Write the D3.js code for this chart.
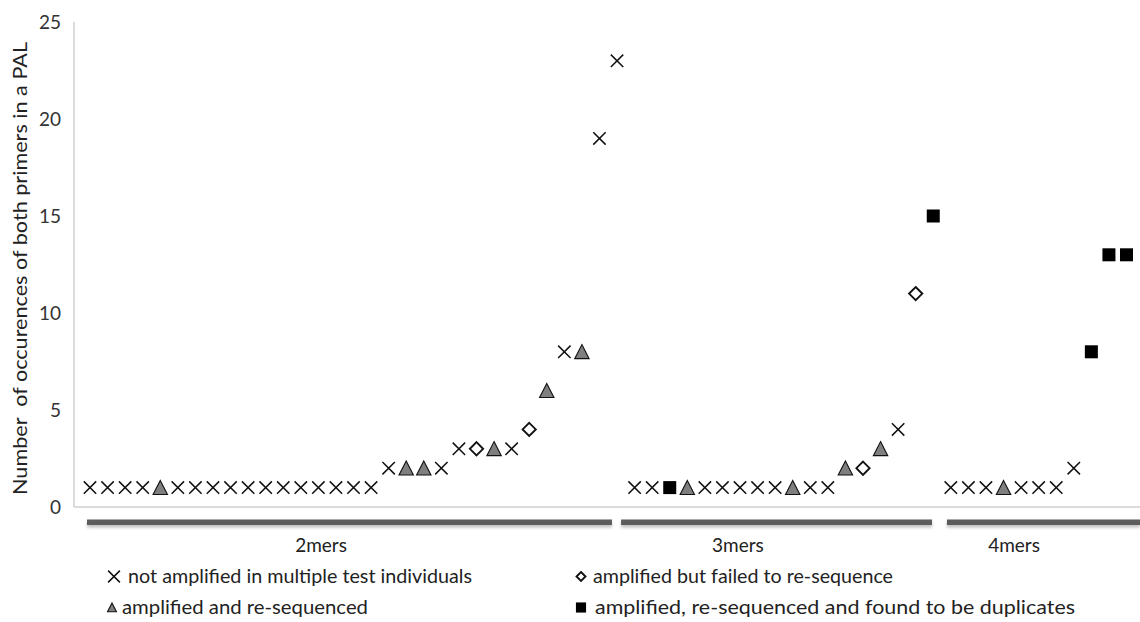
<!DOCTYPE html>
<html>
<head>
<meta charset="utf-8">
<script src="https://cdn.jsdelivr.net/npm/d3@7"></script>
<style>
  html, body { margin: 0; padding: 0; background: #fff; }
  svg { display: block; font-family: Lato, "Open Sans", sans-serif; }
</style>
</head>
<body>
<svg id="chart" width="1140" height="622"></svg>
<script>
// One entry per primer pair (PAL locus), ordered by repeat motif length.
const loci = d3.range(60);

// Number of occurrences of both primers in a PAL, per locus.
const occurrences = [
  // 2mers
  1, 1, 1, 1, 1, 1, 1, 1, 1, 1, 1, 1, 1, 1, 1, 1, 1,
  2, 2, 2, 2, 3, 3, 3, 3, 4, 6, 8, 8, 19, 23,
  // 3mers
  1, 1, 1, 1, 1, 1, 1, 1, 1, 1, 1, 1, 2, 2, 3, 4, 11, 15,
  // 4mers
  1, 1, 1, 1, 1, 1, 1, 2, 8, 13, 13
];

// Outcome of the amplification test for each locus.
// x = not amplified, d = amplified / failed re-sequence,
// t = amplified and re-sequenced, s = re-sequenced duplicates
const outcome = [
  // 2mers
  "x", "x", "x", "x", "t", "x", "x", "x", "x", "x", "x", "x", "x", "x", "x", "x", "x",
  "x", "t", "t", "x", "x", "d", "t", "x", "d", "t", "x", "t", "x", "x",
  // 3mers
  "x", "x", "s", "t", "x", "x", "x", "x", "x", "t", "x", "x", "t", "d", "t", "x", "d", "s",
  // 4mers
  "x", "x", "x", "t", "x", "x", "x", "x", "s", "s", "s"
];

const outcomeKeys = ["x", "d", "t", "s"];
const outcomeLabels = [
  "not amplified in multiple test individuals",
  "amplified but failed to re-sequence",
  "amplified and re-sequenced",
  "amplified, re-sequenced and found to be duplicates"
];

const motifGroups = ["2mers", "3mers", "4mers"];
const yTicks = [0, 5, 10, 15, 20, 25];

// ---- layout ----
const W = 1140, H = 622;
const axisX = 74, baseY = 507, topY = 22;
// group bar extents and label centre, in locus-index units
const groupBands = [
  { from: -0.17, to: 29.71, label: 13.15 },
  { from: 30.23, to: 47.93, label: 36.88 },
  { from: 48.78, to: 59.77, label: 52.6 }
];
// legend slots: [symbol x, text x, baseline y, text width]
const legendSlots = [
  [114, 128, 583, 344],
  [581, 593, 583, 300],
  [112, 122, 614, 246],
  [581, 595, 614, 480]
];

const svg = d3.select("#chart");

const x = d3.scaleLinear().domain([0, 59]).range([90, 1126.5]);
const y = d3.scaleLinear().domain([0, 25]).range([baseY, topY]);

// axis lines
svg.append("line")
  .attr("x1", axisX).attr("x2", axisX)
  .attr("y1", y(25)).attr("y2", baseY)
  .attr("stroke", "#cfcfcf").attr("stroke-width", 1.5);
svg.append("line")
  .attr("x1", axisX).attr("x2", W)
  .attr("y1", baseY).attr("y2", baseY)
  .attr("stroke", "#cfcfcf").attr("stroke-width", 1.5);

// y tick labels
const yAxis = d3.axisLeft(y).tickValues(yTicks).tickSize(0).tickPadding(0);
const yg = svg.append("g").attr("transform", `translate(61,0)`).call(yAxis);
yg.select(".domain").remove();
yg.selectAll("text")
  .attr("font-size", 19)
  .attr("fill", "#333")
  .attr("font-family", "Lato, 'Open Sans', sans-serif");

// y axis title
svg.append("text")
  .attr("transform", `translate(27,${(42 + 495) / 2}) rotate(-90)`)
  .attr("text-anchor", "middle")
  .attr("font-size", 19)
  .attr("fill", "#222")
  .attr("textLength", 453)
  .attr("lengthAdjust", "spacingAndGlyphs")
  .text("Number\u00a0 of occurences of both primers in a PAL");

// marker shapes
function drawMarker(sel, kind, s) {
  if (kind === "x") {
    const r = 6.2 * s;
    sel.append("path")
      .attr("d", `M${-r},${-r}L${r},${r}M${-r},${r}L${r},${-r}`)
      .attr("stroke", "#111").attr("stroke-width", 1.5).attr("fill", "none");
  } else if (kind === "t") {
    const r = 7.2 * s;
    sel.append("path")
      .attr("d", `M0,${-r}L${r},${r * 0.95}L${-r},${r * 0.95}Z`)
      .attr("fill", "#7f7f7f").attr("stroke", "#111").attr("stroke-width", 1.1);
  } else if (kind === "d") {
    const r = 6.6 * s;
    sel.append("path")
      .attr("d", `M0,${-r}L${r},0L0,${r}L${-r},0Z`)
      .attr("fill", "#fff").attr("stroke", "#111").attr("stroke-width", 1.9);
  } else {
    const r = 6.5 * s;
    sel.append("rect")
      .attr("x", -r).attr("y", -r).attr("width", 2 * r).attr("height", 2 * r)
      .attr("fill", "#000");
  }
}

// data points
const pts = svg.append("g").selectAll("g")
  .data(loci)
  .join("g")
  .attr("transform", i => `translate(${x(i)},${y(occurrences[i])})`);
pts.each(function (i) { drawMarker(d3.select(this), outcome[i], 1); });

// group bars with soft shadow
const defs = svg.append("defs");
const f = defs.append("filter").attr("id", "barShadow")
  .attr("x", "-5%").attr("y", "-100%").attr("width", "110%").attr("height", "400%");
f.append("feDropShadow")
  .attr("dx", 0).attr("dy", 2.5).attr("stdDeviation", 1.6)
  .attr("flood-color", "#000").attr("flood-opacity", 0.25);

const bands = svg.append("g");
bands.selectAll("rect")
  .data(motifGroups)
  .join("rect")
  .attr("x", (d, i) => x(groupBands[i].from))
  .attr("width", (d, i) => x(groupBands[i].to) - x(groupBands[i].from))
  .attr("y", 519.5)
  .attr("height", 5.5)
  .attr("fill", "#5b5b5b")
  .attr("filter", "url(#barShadow)");

bands.selectAll("text")
  .data(motifGroups)
  .join("text")
  .attr("x", (d, i) => x(groupBands[i].label))
  .attr("y", 552)
  .attr("text-anchor", "middle")
  .attr("font-size", 19)
  .attr("fill", "#222")
  .text(d => d);

// legend
const lg = svg.append("g");
outcomeKeys.forEach((k, i) => {
  const [sx, tx, by, tw] = legendSlots[i];
  const scale = { x: 0.95, d: 0.68, t: 0.62, s: 0.78 }[k];
  const m = lg.append("g").attr("transform", `translate(${sx},${by - 6.5})`);
  drawMarker(m, k, scale);
  lg.append("text")
    .attr("x", tx).attr("y", by)
    .attr("font-size", 19)
    .attr("fill", "#222")
    .attr("textLength", tw)
    .attr("lengthAdjust", "spacingAndGlyphs")
    .text(outcomeLabels[i]);
});
</script>
</body>
</html>
